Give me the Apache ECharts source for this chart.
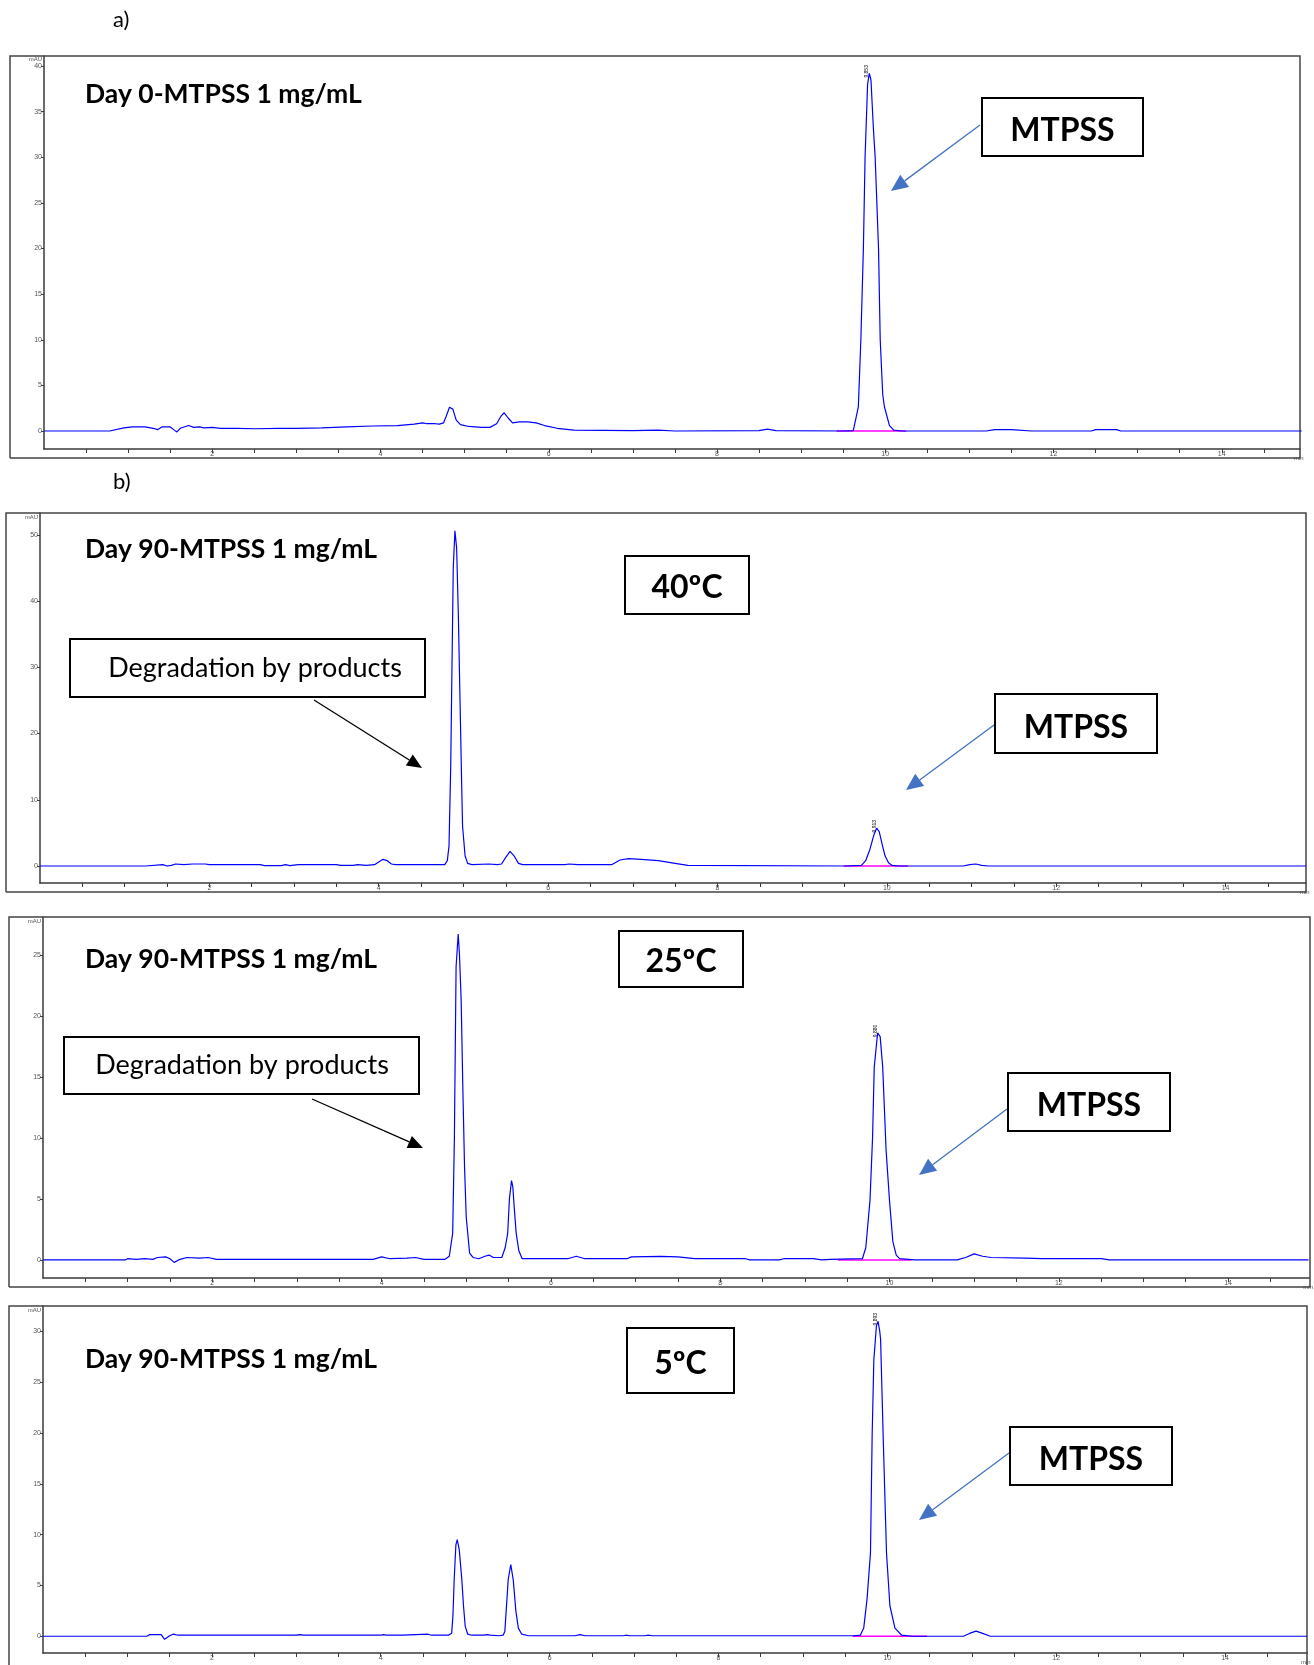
<!DOCTYPE html>
<html><head><meta charset="utf-8">
<script src="https://cdn.jsdelivr.net/npm/echarts@6/dist/echarts.min.js"></script>
<style>html,body{margin:0;padding:0;background:#fff}#c{width:1314px;height:1665px}</style>
</head><body><div id="c"></div><script>
// ---------- data ----------
const timeLabelTicks = [2, 4, 6, 8, 10, 12, 14];
const timeMinorTicks = [0.5,1,1.5,2,2.5,3,3.5,4,4.5,5,5.5,6,6.5,7,7.5,8,8.5,9,9.5,10,10.5,11,11.5,12,12.5,13,13.5,14,14.5];
const yTicksDay0 = [0, 5, 10, 15, 20, 25, 30, 35, 40];
const yTicks40C = [0, 10, 20, 30, 40, 50];
const yTicks25C = [0, 5, 10, 15, 20, 25];
const yTicks5C = [0, 5, 10, 15, 20, 25, 30];

const panelTitles = ['Day 0-MTPSS 1 mg/mL', 'Day 90-MTPSS 1 mg/mL', 'Day 90-MTPSS 1 mg/mL', 'Day 90-MTPSS 1 mg/mL'];
const tempLabels = ['', '40ºC', '25ºC', '5ºC'];
const peakLabels = ['9.853', '9.913', '9.880', '9.893'];

const traceDay0 = [[0,0],[0.78,0],[0.8,0.1],[0.95,0.35],[1.05,0.45],[1.2,0.45],[1.3,0.3],[1.35,0.15],[1.4,0.45],[1.5,0.45],[1.55,0.1],[1.58,-0.1],[1.62,0.3],[1.72,0.6],[1.78,0.4],[1.85,0.45],[1.9,0.35],[2.0,0.4],[2.1,0.3],[2.3,0.3],[2.5,0.25],[2.8,0.3],[3.0,0.3],[3.3,0.35],[3.6,0.45],[3.9,0.55],[4.2,0.6],[4.4,0.75],[4.5,0.9],[4.55,0.8],[4.65,0.8],[4.7,0.75],[4.75,0.9],[4.78,1.6],[4.82,2.6],[4.86,2.4],[4.9,1.2],[4.95,0.7],[5.05,0.5],[5.2,0.4],[5.3,0.4],[5.38,0.8],[5.43,1.6],[5.47,2.0],[5.52,1.4],[5.57,0.9],[5.65,1.0],[5.75,1.0],[5.85,0.9],[5.95,0.6],[6.1,0.3],[6.3,0.1],[7.0,0.05],[7.3,0.1],[7.5,0.0],[8.5,0.05],[8.6,0.2],[8.7,0.05],[9.5,0],[9.62,0.05],[9.68,2.66],[9.71,10],[9.74,20],[9.76,30],[9.79,38],[9.81,39.2],[9.83,38.5],[9.86,33],[9.88,30],[9.92,20],[9.94,10],[9.97,4],[9.99,2.66],[10.05,0.6],[10.1,0.1],[10.2,0],[11.2,0],[11.3,0.15],[11.5,0.15],[11.74,0],[12.45,0],[12.5,0.15],[12.75,0.15],[12.8,0],[14.95,0]];
const trace40C = [[0,0],[1.25,0],[1.27,0.2],[1.45,0.2],[1.5,0],[1.55,0.1],[1.6,0.3],[1.7,0.2],[1.8,0.3],[1.95,0.3],[2.0,0.2],[2.6,0.2],[2.65,0.05],[2.85,0.05],[2.9,0.2],[2.95,0.05],[3.05,0.2],[3.5,0.2],[3.55,0.1],[3.7,0.1],[3.75,0.2],[3.85,0.1],[3.95,0.2],[4.0,0.6],[4.05,1.0],[4.1,0.8],[4.15,0.3],[4.2,0.2],[4.78,0.2],[4.81,0.8],[4.83,3],[4.85,15],[4.86,25],[4.88,45],[4.9,50.6],[4.92,48],[4.94,38],[4.96,25],[4.98,12],[4.99,6],[5.02,1.5],[5.05,0.4],[5.1,0.2],[5.3,0.3],[5.4,0.2],[5.45,0.3],[5.5,1.3],[5.55,2.2],[5.6,1.5],[5.65,0.4],[5.7,0.2],[6.2,0.2],[6.25,0.3],[6.35,0.2],[6.75,0.2],[6.85,0.9],[6.95,1.1],[7.1,1.0],[7.3,0.8],[7.5,0.4],[7.65,0.1],[9.5,0],[9.7,0.1],[9.75,0.8],[9.8,2.5],[9.85,4.8],[9.88,5.7],[9.91,5.2],[9.95,3.0],[9.98,1.5],[10.02,0.5],[10.06,0.1],[10.15,0],[10.9,0],[10.98,0.2],[11.05,0.3],[11.12,0.1],[11.2,0],[14.95,0]];
const trace25C = [[0,0],[0.97,0],[1.0,0.1],[1.1,0.05],[1.2,0.1],[1.3,0.05],[1.35,0.2],[1.45,0.25],[1.5,0.1],[1.55,-0.2],[1.62,0.05],[1.7,0.2],[1.85,0.15],[1.95,0.2],[2.05,0.05],[3.9,0.05],[4.0,0.25],[4.1,0.1],[4.3,0.15],[4.4,0.2],[4.5,0.05],[4.75,0.05],[4.8,0.3],[4.84,2.2],[4.86,10],[4.88,24],[4.905,26.7],[4.92,25],[4.94,21.3],[4.96,14],[4.98,7.6],[5.0,3.5],[5.04,0.55],[5.08,0.2],[5.15,0.1],[5.22,0.3],[5.27,0.4],[5.32,0.2],[5.42,0.2],[5.46,1],[5.49,2.2],[5.51,5],[5.535,6.5],[5.55,6],[5.57,4],[5.59,2.2],[5.62,0.8],[5.66,0.1],[6.2,0.1],[6.3,0.3],[6.4,0.1],[6.9,0.1],[6.95,0.25],[7.3,0.3],[7.5,0.25],[7.7,0.1],[8.3,0.1],[8.35,0],[8.7,0],[8.75,0.1],[9.1,0.1],[9.2,0],[9.3,0.05],[9.68,0.1],[9.72,1],[9.77,4.9],[9.8,10],[9.82,15.8],[9.86,18.6],[9.89,18.3],[9.92,15.8],[9.96,9],[10.0,4.9],[10.04,1.5],[10.08,0.4],[10.12,0.1],[10.3,0],[10.8,0],[10.9,0.2],[11.0,0.5],[11.1,0.3],[11.2,0.2],[11.6,0.15],[11.8,0.1],[12.5,0.1],[12.6,0],[14.95,0]];
const trace5C = [[0,0],[1.23,0],[1.26,0.15],[1.4,0.15],[1.44,-0.3],[1.5,0.05],[1.54,0.2],[1.6,0.1],[3.0,0.1],[3.04,0.15],[3.08,0.1],[4.0,0.1],[4.03,0.15],[4.07,0.1],[4.26,0.1],[4.28,0.2],[4.56,0.2],[4.6,0.1],[4.8,0.1],[4.84,0.3],[4.855,2],[4.87,5.6],[4.89,9],[4.906,9.5],[4.93,8.5],[4.96,5.6],[4.98,3],[5.0,1],[5.03,0.2],[5.08,0.1],[5.22,0.1],[5.26,0.15],[5.3,0.1],[5.4,0.05],[5.45,0.1],[5.47,0.5],[5.51,5.6],[5.54,7.06],[5.57,5.5],[5.6,2.5],[5.63,0.8],[5.67,0.2],[5.75,0.05],[6.3,0.05],[6.36,0.15],[6.42,0.05],[6.87,0.05],[6.9,0.1],[6.95,0.05],[7.13,0.05],[7.16,0.1],[7.22,0.05],[9.6,0.05],[9.68,0.1],[9.72,0.8],[9.76,3.7],[9.8,8.2],[9.82,19.8],[9.84,27.2],[9.87,30.5],[9.89,31],[9.91,30],[9.92,29.2],[9.95,19.8],[9.99,8.2],[10.03,3.0],[10.09,0.8],[10.17,0.1],[10.3,0],[10.9,0],[10.98,0.3],[11.05,0.5],[11.12,0.3],[11.22,0],[14.97,0]];
const integrationDay0 = [[9.42,0],[10.25,0]];
const integration40C = [[9.49,0],[10.25,0]];
const integration25C = [[9.39,0],[10.26,0]];
const integration5C = [[9.59,0],[10.47,0]];

// ---------- layout ----------
const panels = [
  {trace: traceDay0, integ: integrationDay0, yTicks: yTicksDay0, grid:{left:44, top:56, width:1256, height:393}, xMax:14.93, yMin:-1.97, yMax:41.1,
   frame:[10,56,1300,458]},
  {trace: trace40C, integ: integration40C, yTicks: yTicks40C, grid:{left:40, top:513, width:1266, height:370}, xMax:14.95, yMin:-2.57, yMax:53.3,
   frame:[6,513,1306,892]},
  {trace: trace25C, integ: integration25C, yTicks: yTicks25C, grid:{left:43, top:917, width:1267, height:361}, xMax:14.96, yMin:-1.48, yMax:28.1,
   frame:[9,917,1310,1287]},
  {trace: trace5C, integ: integration5C, yTicks: yTicks5C, grid:{left:43, top:1306, width:1264, height:352}, xMax:14.97, yMin:-1.65, yMax:32.5,
   frame:[9,1306,1307,1672]}
];
const titlePos = [[85,94],[85,549],[85,959],[85,1359]];
const tempBoxes = [null, [625,556,749,614], [619,931,743,987], [627,1328,734,1393]];
const mtpssBoxes = [[982,98,1143,156],[995,694,1157,753],[1008,1073,1170,1131],[1010,1427,1172,1485]];
const mtpssArrows = [[980,125,891,191],[994,725,906,790],[1007,1109,919,1175],[1009,1453,919,1520]];
const degBoxes = [null, [70,639,425,697], [64,1037,419,1094], null];
const degTextX = [0, 255, 242, 0];
const degArrows = [null, [314,700,422,768], [312,1099,423,1148], null];

const FONT = 'Lato, "Open Sans", sans-serif';
const axisColor = '#3a3a3a';

const grids = [], xAxes = [], yAxes = [], series = [], graphic = [];
panels.forEach((p, i) => {
  grids.push(Object.assign({containLabel:false, show:false}, p.grid));
  xAxes.push({
    type:'value', gridIndex:i, min:0, max:p.xMax,
    axisLine:{show:true, onZero:false, lineStyle:{color:axisColor, width:1.5}},
    axisTick:{show:true, length:4, customValues: timeMinorTicks, lineStyle:{color:axisColor, width:1}},
    axisLabel:{show:true, customValues: timeLabelTicks, fontSize:7, margin:2, color:'#555', fontFamily:'Arial, Liberation Sans'},
    splitLine:{show:false},
    name:'min', nameLocation:'end', nameGap:-6,
    nameTextStyle:{fontSize:6, color:'#555', verticalAlign:'top', padding:[6,0,0,0]}
  });
  yAxes.push({
    type:'value', gridIndex:i, min:p.yMin, max:p.yMax,
    axisLine:{show:true, onZero:false, lineStyle:{color:axisColor, width:1.5}},
    axisTick:{show:true, length:3, customValues:p.yTicks, lineStyle:{color:axisColor, width:1}},
    axisLabel:{show:true, customValues:p.yTicks, fontSize:7, margin:2, color:'#555', fontFamily:'Arial, Liberation Sans'},
    splitLine:{show:false},
    name:'mAU', nameLocation:'end', nameGap:-1,
    nameTextStyle:{fontSize:6, color:'#555', align:'right', verticalAlign:'top', padding:[0,2,0,0]}
  });
  let apex = p.trace[0];
  p.trace.forEach(pt => { if (pt[0] > 9 && pt[1] > apex[1]) apex = pt; });
  series.push({
    type:'line', xAxisIndex:i, yAxisIndex:i, data:p.integ, showSymbol:false, silent:true,
    lineStyle:{color:'#ff00ff', width:1.5}, animation:false, z:2
  });
  series.push({
    type:'line', xAxisIndex:i, yAxisIndex:i, data:p.trace, showSymbol:false, silent:true,
    lineStyle:{color:'#0000ff', width:1.2}, animation:false, z:3,
    markPoint:{symbol:'circle', symbolSize:0, silent:true, animation:false,
      label:{show:true, formatter: peakLabels[i], fontSize:5, rotate:90, position:'top', distance:2, color:'#000', fontFamily:'Arial'},
      data:[{coord:[apex[0], apex[1]]}]}
  });
  const f = p.frame;
  graphic.push({type:'polyline', silent:true, z:1, shape:{points:[[f[0],f[3]],[f[0],f[1]],[f[2],f[1]],[f[2],f[3]],[f[0],f[3]]]},
    style:{stroke:'#444', lineWidth:1.5, fill:null}});
});

function box(b, zz) {
  return {type:'rect', silent:true, z:zz||10, shape:{x:b[0], y:b[1], width:b[2]-b[0], height:b[3]-b[1]},
    style:{fill:'#fff', stroke:'#000', lineWidth:2}};
}
function txt(x, y, s, size, weight, align) {
  return {type:'text', silent:true, z:11, x:x, y:y,
    style:{text:s, fill:'#000', font: weight + ' ' + size + 'px ' + FONT, align:align||'left', verticalAlign:'middle'}};
}
function arrow(a, color, lw, hl, hw) {
  const [x1,y1,x2,y2] = a;
  const dx = x2-x1, dy = y2-y1, L = Math.hypot(dx,dy);
  const ux = dx/L, uy = dy/L, nx = -uy, ny = ux;
  const bx = x2 - ux*hl, by = y2 - uy*hl;
  return [
    {type:'line', silent:true, z:9, shape:{x1:x1, y1:y1, x2:bx, y2:by}, style:{stroke:color, lineWidth:lw}},
    {type:'polygon', silent:true, z:9, shape:{points:[[x2,y2],[bx+nx*hw/2, by+ny*hw/2],[bx-nx*hw/2, by-ny*hw/2]]}, style:{fill:color}}
  ];
}

graphic.push(txt(113, 20, 'a)', 22, 'normal'));
graphic.push(txt(113, 482, 'b)', 22, 'normal'));
titlePos.forEach((t, i) => graphic.push(txt(t[0], t[1], panelTitles[i], 26.5, 'bold')));
tempBoxes.forEach((b, i) => {
  if (!b) return;
  graphic.push(box(b));
  graphic.push(txt((b[0]+b[2])/2, (b[1]+b[3])/2 + 3, tempLabels[i], 32, 'bold', 'center'));
});
mtpssBoxes.forEach((b, i) => {
  graphic.push(box(b));
  graphic.push(txt((b[0]+b[2])/2, (b[1]+b[3])/2 + 4, 'MTPSS', 32, 'bold', 'center'));
  arrow(mtpssArrows[i], '#4472c4', 1.3, 17, 15).forEach(g => graphic.push(g));
});
degBoxes.forEach((b, i) => {
  if (!b) return;
  graphic.push(box(b));
  graphic.push(txt(degTextX[i], (b[1]+b[3])/2, 'Degradation by products', 27, 'normal', 'center'));
  arrow(degArrows[i], '#000', 1.3, 15, 13).forEach(g => graphic.push(g));
});

const chart = echarts.init(document.getElementById('c'), null, {renderer:'canvas'});
chart.setOption({
  animation:false, backgroundColor:'#fff',
  grid:grids, xAxis:xAxes, yAxis:yAxes, series:series, graphic:graphic
});
</script></body></html>
